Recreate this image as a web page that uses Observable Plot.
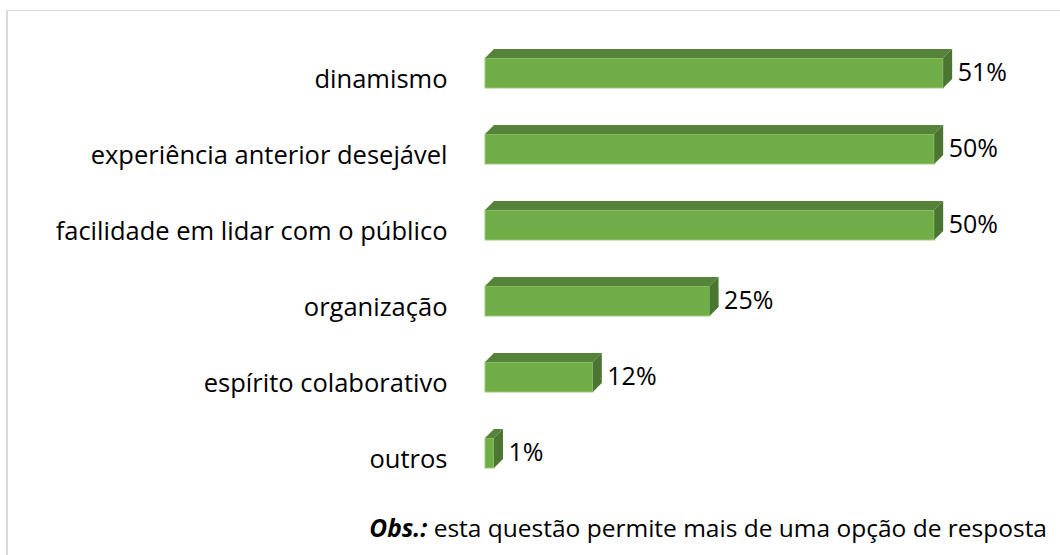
<!DOCTYPE html>
<html>
<head>
<meta charset="utf-8">
<script src="https://cdn.jsdelivr.net/npm/d3@7"></script>
<script src="https://cdn.jsdelivr.net/npm/@observablehq/plot@0.6"></script>
<style>
  html, body { margin: 0; padding: 0; background: #fff; }
  #wrap { position: relative; width: 1060px; height: 555px; overflow: hidden; }
  #border { position: absolute; left: 6px; top: 10px; right: -20px; bottom: -20px;
            border-top: 1px solid #d9d9d9; border-left: 2px solid #d9d9d9; }
  #chart { position: absolute; left: 0; top: 0; }
  #caption { position: absolute; right: 13px; top: 513px; font-family: "Open Sans", sans-serif;
             font-size: 24.5px; line-height: 30px; color: #000; white-space: nowrap; }
</style>
</head>
<body>
<div id="wrap">
  <div id="border"></div>
  <div id="chart"></div>
  <div id="caption"><b><i>Obs.:</i></b> esta questão permite mais de uma opção de resposta</div>
</div>
<script>
const categories = ["dinamismo", "experiência anterior desejável", "facilidade em lidar com o público", "organização", "espírito colaborativo", "outros"];
const percentages = [51, 50, 50, 25, 12, 1];
const valueLabels = ["51%", "50%", "50%", "25%", "12%", "1%"];

const data = categories.map((c, i) => ({category: c, value: percentages[i], label: valueLabels[i]}));

const DEPTH = 9;
const FRONT = "#70ad47", TOP = "#56833a", SIDE = "#4b7631";

function faces(index, scales) {
  const sx = scales.x, sy = scales.y;
  const bw = typeof sy.bandwidth === "function" ? sy.bandwidth() : 30;
  const g = d3.create("svg:g");
  data.forEach(d => {
    const x0 = sx(0), x1 = sx(d.value), y0 = sy(d.category), y1 = y0 + bw;
    g.append("polygon")
      .attr("points", [[x0, y0], [x0 + DEPTH, y0 - DEPTH], [x1 + DEPTH, y0 - DEPTH], [x1, y0]].map(p => p.join(",")).join(" "))
      .attr("fill", TOP);
    g.append("polygon")
      .attr("points", [[x1, y0], [x1 + DEPTH, y0 - DEPTH], [x1 + DEPTH, y1 - DEPTH], [x1, y1]].map(p => p.join(",")).join(" "))
      .attr("fill", SIDE);
  });
  return g.node();
}

const chart = Plot.plot({
  width: 1060,
  height: 505,
  marginLeft: 485,
  marginRight: 36,
  marginTop: 33,
  marginBottom: 12,
  style: {fontFamily: "'Open Sans', sans-serif", fontSize: "25px", color: "#000", background: "transparent"},
  x: {domain: [0, 60], axis: null},
  y: {domain: categories, paddingInner: 0.6, paddingOuter: 0.3, axis: null},
  marks: [
    Plot.barX(data, {x: "value", y: "category", fill: FRONT, stroke: "#9cc97f", strokeWidth: 1, inset: 0}),
    faces,
    Plot.text(data, {x: 0, y: "category", text: "category", textAnchor: "end", dx: -38, dy: 6, fill: "#000", fontSize: 25.5}),
    Plot.text(data, {x: "value", y: "category", text: "label", textAnchor: "start", dx: 14, dy: -1, fill: "#000", fontSize: 25})
  ]
});
document.getElementById("chart").appendChild(chart);
</script>
</body>
</html>
